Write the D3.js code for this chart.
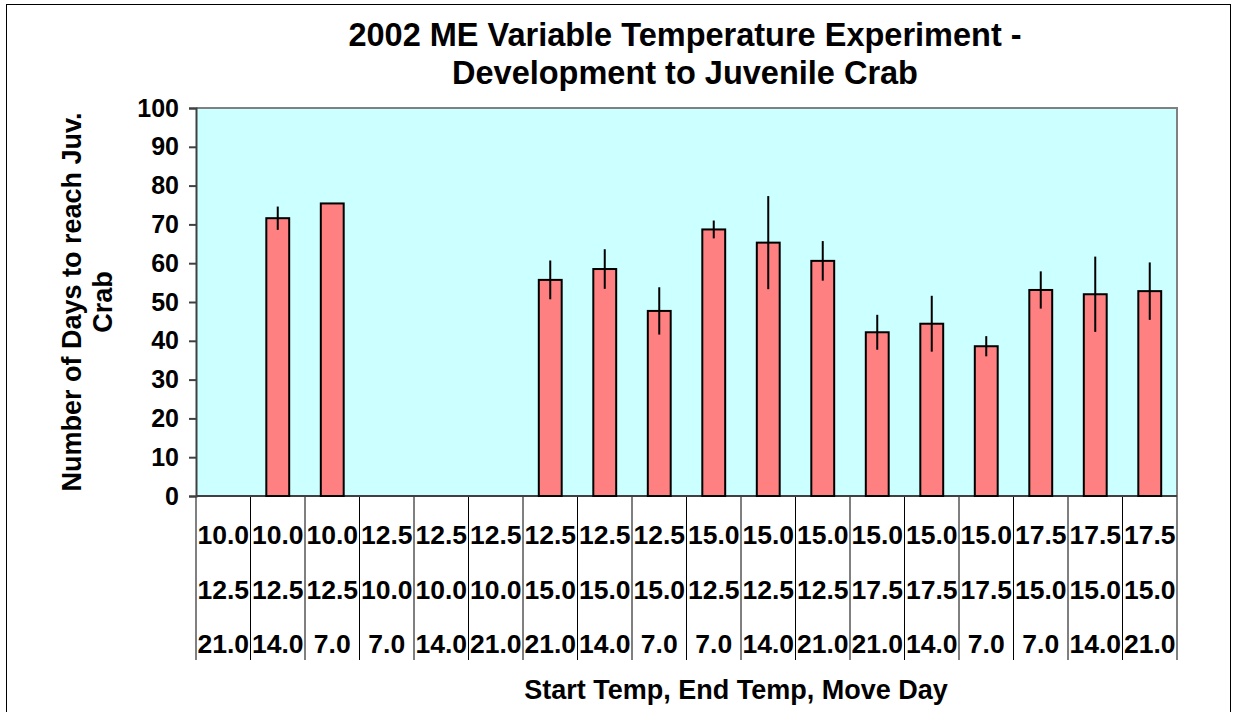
<!DOCTYPE html>
<html>
<head>
<meta charset="utf-8">
<script src="https://cdn.jsdelivr.net/npm/d3@7"></script>
<style>
  body { margin: 0; background: #fff; }
  text { font-family: "Liberation Sans", Arial, sans-serif; font-weight: bold; fill: #000; }
</style>
</head>
<body>
<svg id="chart"></svg>
<script>
// data
var startTemp = ["10.0","10.0","10.0","12.5","12.5","12.5","12.5","12.5","12.5","15.0","15.0","15.0","15.0","15.0","15.0","17.5","17.5","17.5"]
var endTemp   = ["12.5","12.5","12.5","10.0","10.0","10.0","15.0","15.0","15.0","12.5","12.5","12.5","17.5","17.5","17.5","15.0","15.0","15.0"]
var moveDay   = ["21.0","14.0","7.0","7.0","14.0","21.0","21.0","14.0","7.0","7.0","14.0","21.0","21.0","14.0","7.0","7.0","14.0","21.0"]
var meanDays  = [null, 71.6, 75.4, null, null, null, 55.7, 58.5, 47.7, 68.7, 65.3, 60.6, 42.2, 44.4, 38.6, 53.1, 52.0, 52.8]
var errDays   = [null, 3.0, 0, null, null, null, 5.0, 5.1, 6.1, 2.3, 12.0, 5.1, 4.5, 7.2, 2.6, 4.8, 9.7, 7.4]
var yTicks    = [0, 10, 20, 30, 40, 50, 60, 70, 80, 90, 100]

var W = 1233, H = 712
var margin = {top: 108, right: 56, bottom: 216, left: 196}
var width = W - margin.left - margin.right,
    height = H - margin.top - margin.bottom

var svg = d3.select("#chart").attr("width", W).attr("height", H)

// outer frame
svg.append("rect")
    .attr("x", 6.5).attr("y", 4.5)
    .attr("width", 1224).attr("height", 712)
    .attr("fill", "none").attr("stroke", "#000").attr("stroke-width", 1)

var g = svg.append("g")
    .attr("transform", "translate(" + margin.left + "," + margin.top + ")")

var idx = d3.range(startTemp.length)
var x = d3.scaleBand().domain(idx).range([0, width]).padding(0)
var y = d3.scaleLinear().domain([0, 100]).range([height, 0])

// plot area
g.append("rect")
    .attr("width", width).attr("height", height)
    .attr("fill", "#CCFFFF")
g.append("path")
    .attr("d", "M0,0H" + width + "V" + height)
    .attr("fill", "none").attr("stroke", "#808080").attr("stroke-width", 2)

// category separators below the axis
var labelDepth = 164
g.append("g").selectAll("line")
    .data(d3.range(startTemp.length + 1))
    .enter().append("line")
    .attr("x1", function(d){ return d < startTemp.length ? x(d) : width })
    .attr("x2", function(d){ return d < startTemp.length ? x(d) : width })
    .attr("y1", height).attr("y2", height + labelDepth)
    .attr("stroke", function(d){ return (d == 0 || d == startTemp.length) ? "#808080" : "#000" })
    .attr("stroke-width", function(d){ return (d == 0 || d == startTemp.length) ? 2 : 1 })

// category labels, three rows
var rows = [startTemp, endTemp, moveDay]
var rowY = [48, 103, 157]
rows.forEach(function(row, r){
    g.append("g").selectAll("text")
        .data(row)
        .enter().append("text")
        .attr("x", function(d, i){ return x(i) + x.bandwidth() / 2 })
        .attr("y", height + rowY[r])
        .attr("text-anchor", "middle")
        .style("font-size", "26.5px")
        .text(function(d){ return d })
})

// y axis
var yAxis = g.append("g")
    .call(d3.axisLeft(y).tickValues(yTicks).tickSize(7).tickPadding(10))
yAxis.select(".domain").attr("stroke", "#404040").attr("stroke-width", 2)
yAxis.selectAll(".tick line").attr("stroke", "#404040").attr("stroke-width", 2)
yAxis.selectAll("text")
    .attr("font-family", null)
    .style("font-size", "25px")

// x axis base line
g.append("line")
    .attr("x1", 0).attr("x2", width)
    .attr("y1", height).attr("y2", height)
    .attr("stroke", "#404040").attr("stroke-width", 2)

// bars
var barW = x.bandwidth() * 0.42
var data = idx.filter(function(i){ return meanDays[i] != null })

g.append("g").selectAll("rect")
    .data(data)
    .enter().append("rect")
    .attr("x", function(i){ return x(i) + (x.bandwidth() - barW) / 2 })
    .attr("y", function(i){ return y(meanDays[i]) })
    .attr("width", barW)
    .attr("height", function(i){ return height - y(meanDays[i]) })
    .attr("fill", "#FF8080")
    .attr("stroke", "#000").attr("stroke-width", 2)

// error bars
g.append("g").selectAll("line")
    .data(data.filter(function(i){ return errDays[i] > 0 }))
    .enter().append("line")
    .attr("x1", function(i){ return x(i) + x.bandwidth() / 2 })
    .attr("x2", function(i){ return x(i) + x.bandwidth() / 2 })
    .attr("y1", function(i){ return y(meanDays[i] + errDays[i]) })
    .attr("y2", function(i){ return y(meanDays[i] - errDays[i]) })
    .attr("stroke", "#000").attr("stroke-width", 2)

// titles
var title = svg.append("text")
    .attr("text-anchor", "middle")
    .style("font-size", "32.5px")
title.append("tspan").attr("x", 685).attr("y", 46).text("2002 ME Variable Temperature Experiment -")
title.append("tspan").attr("x", 685).attr("y", 84).text("Development to Juvenile Crab")

svg.append("text")
    .attr("x", 736).attr("y", 699)
    .attr("text-anchor", "middle")
    .style("font-size", "27px")
    .text("Start Temp, End Temp, Move Day")

var yTitle = svg.append("text")
    .attr("transform", "translate(0," + (margin.top + height / 2) + ") rotate(-90)")
    .attr("text-anchor", "middle")
    .style("font-size", "27px")
yTitle.append("tspan").attr("x", 0).attr("y", 81).text("Number of Days to reach Juv.")
yTitle.append("tspan").attr("x", 0).attr("y", 112).text("Crab")
</script>
</body>
</html>
